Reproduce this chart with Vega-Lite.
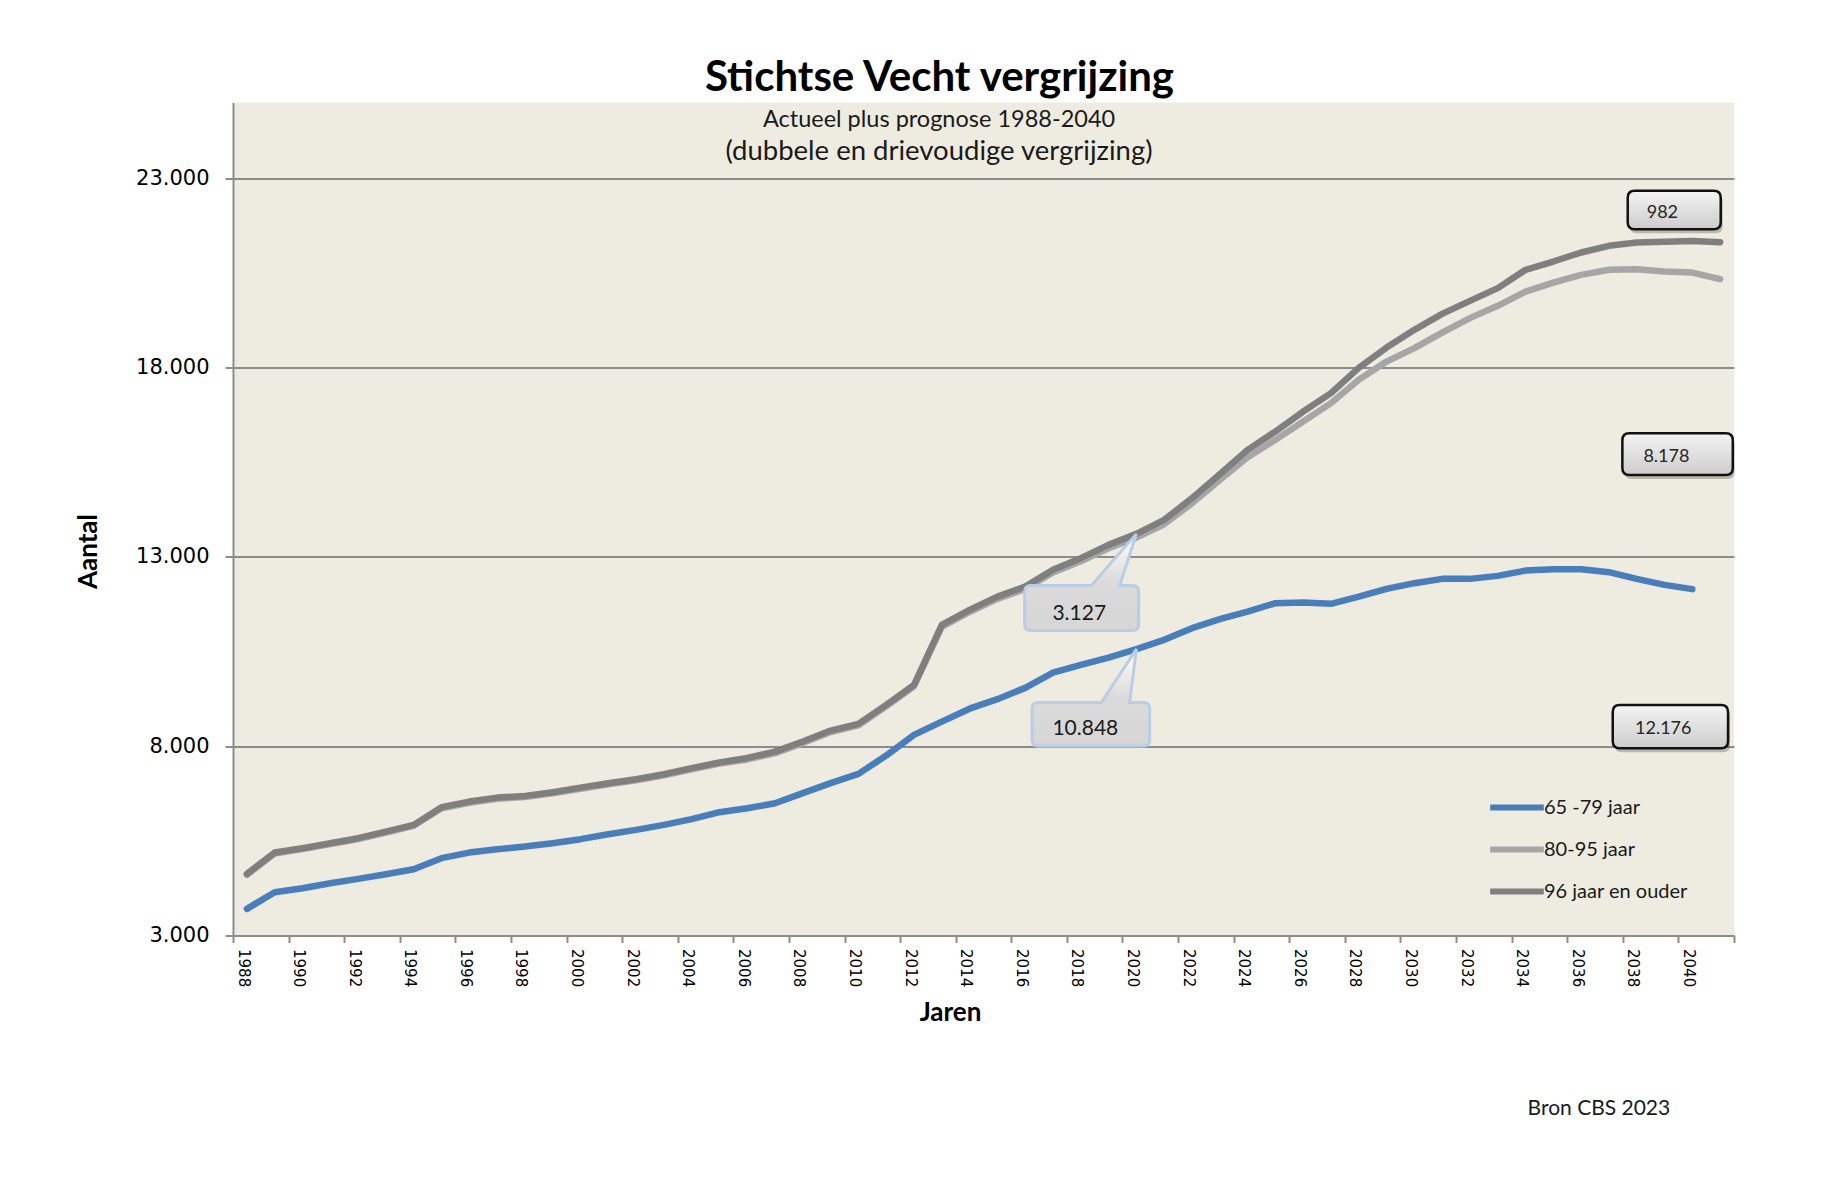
{
  "$schema": "https://vega.github.io/schema/vega-lite/v6.json",
  "width": 1501,
  "height": 833,
  "autosize": "none",
  "padding": {"left": 233, "top": 102.5, "right": 93, "bottom": 249.5},
  "background": "white",
  "config": {"view": {"fill": "#EEECE1", "stroke": null}, "font": "Lato"},
  "title": {"text": "Stichtse Vecht vergrijzing", "font": "Lato", "fontSize": 42, "fontWeight": "bold", "color": "#000000", "anchor": "middle", "frame": "group", "dx": -44, "baseline": "bottom", "offset": -39},
  "datasets": {
    "series": [
      {"year":1988,"group":"65 -79 jaar","value":3703},{"year":1989,"group":"65 -79 jaar","value":4144},{"year":1990,"group":"65 -79 jaar","value":4249},{"year":1991,"group":"65 -79 jaar","value":4381},{"year":1992,"group":"65 -79 jaar","value":4495},{"year":1993,"group":"65 -79 jaar","value":4619},{"year":1994,"group":"65 -79 jaar","value":4751},{"year":1995,"group":"65 -79 jaar","value":5042},{"year":1996,"group":"65 -79 jaar","value":5190},{"year":1997,"group":"65 -79 jaar","value":5279},
      {"year":1998,"group":"65 -79 jaar","value":5348},{"year":1999,"group":"65 -79 jaar","value":5438},{"year":2000,"group":"65 -79 jaar","value":5544},{"year":2001,"group":"65 -79 jaar","value":5676},{"year":2002,"group":"65 -79 jaar","value":5789},{"year":2003,"group":"65 -79 jaar","value":5921},{"year":2004,"group":"65 -79 jaar","value":6072},{"year":2005,"group":"65 -79 jaar","value":6257},{"year":2006,"group":"65 -79 jaar","value":6360},{"year":2007,"group":"65 -79 jaar","value":6494},
      {"year":2008,"group":"65 -79 jaar","value":6759},{"year":2009,"group":"65 -79 jaar","value":7023},{"year":2010,"group":"65 -79 jaar","value":7268},{"year":2011,"group":"65 -79 jaar","value":7752},{"year":2012,"group":"65 -79 jaar","value":8298},{"year":2013,"group":"65 -79 jaar","value":8650},{"year":2014,"group":"65 -79 jaar","value":8990},{"year":2015,"group":"65 -79 jaar","value":9241},{"year":2016,"group":"65 -79 jaar","value":9540},{"year":2017,"group":"65 -79 jaar","value":9940},
      {"year":2018,"group":"65 -79 jaar","value":10147},{"year":2019,"group":"65 -79 jaar","value":10340},{"year":2020,"group":"65 -79 jaar","value":10562},{"year":2021,"group":"65 -79 jaar","value":10808},{"year":2022,"group":"65 -79 jaar","value":11117},{"year":2023,"group":"65 -79 jaar","value":11354},{"year":2024,"group":"65 -79 jaar","value":11555},{"year":2025,"group":"65 -79 jaar","value":11777},{"year":2026,"group":"65 -79 jaar","value":11793},{"year":2027,"group":"65 -79 jaar","value":11759},
      {"year":2028,"group":"65 -79 jaar","value":11951},{"year":2029,"group":"65 -79 jaar","value":12155},{"year":2030,"group":"65 -79 jaar","value":12305},{"year":2031,"group":"65 -79 jaar","value":12419},{"year":2032,"group":"65 -79 jaar","value":12419},{"year":2033,"group":"65 -79 jaar","value":12498},{"year":2034,"group":"65 -79 jaar","value":12638},{"year":2035,"group":"65 -79 jaar","value":12675},{"year":2036,"group":"65 -79 jaar","value":12675},{"year":2037,"group":"65 -79 jaar","value":12596},
      {"year":2038,"group":"65 -79 jaar","value":12419},{"year":2039,"group":"65 -79 jaar","value":12260},{"year":2040,"group":"65 -79 jaar","value":12147},

      {"year":1988,"group":"80-95 jaar","value":4602},{"year":1989,"group":"80-95 jaar","value":5165},{"year":1990,"group":"80-95 jaar","value":5281},{"year":1991,"group":"80-95 jaar","value":5413},{"year":1992,"group":"80-95 jaar","value":5545},{"year":1993,"group":"80-95 jaar","value":5719},{"year":1994,"group":"80-95 jaar","value":5896},{"year":1995,"group":"80-95 jaar","value":6359},{"year":1996,"group":"80-95 jaar","value":6507},{"year":1997,"group":"80-95 jaar","value":6612},
      {"year":1998,"group":"80-95 jaar","value":6657},{"year":1999,"group":"80-95 jaar","value":6755},{"year":2000,"group":"80-95 jaar","value":6876},{"year":2001,"group":"80-95 jaar","value":6993},{"year":2002,"group":"80-95 jaar","value":7098},{"year":2003,"group":"80-95 jaar","value":7230},{"year":2004,"group":"80-95 jaar","value":7389},{"year":2005,"group":"80-95 jaar","value":7540},{"year":2006,"group":"80-95 jaar","value":7650},{"year":2007,"group":"80-95 jaar","value":7817},
      {"year":2008,"group":"80-95 jaar","value":8082},{"year":2009,"group":"80-95 jaar","value":8372},{"year":2010,"group":"80-95 jaar","value":8549},{"year":2011,"group":"80-95 jaar","value":9051},{"year":2012,"group":"80-95 jaar","value":9579},{"year":2013,"group":"80-95 jaar","value":11154},{"year":2014,"group":"80-95 jaar","value":11545},{"year":2015,"group":"80-95 jaar","value":11891},{"year":2016,"group":"80-95 jaar","value":12151},{"year":2017,"group":"80-95 jaar","value":12587},
      {"year":2018,"group":"80-95 jaar","value":12886},{"year":2019,"group":"80-95 jaar","value":13227},{"year":2020,"group":"80-95 jaar","value":13507},{"year":2021,"group":"80-95 jaar","value":13862},{"year":2022,"group":"80-95 jaar","value":14415},{"year":2023,"group":"80-95 jaar","value":15030},{"year":2024,"group":"80-95 jaar","value":15633},{"year":2025,"group":"80-95 jaar","value":16090},{"year":2026,"group":"80-95 jaar","value":16574},{"year":2027,"group":"80-95 jaar","value":17060},
      {"year":2028,"group":"80-95 jaar","value":17680},{"year":2029,"group":"80-95 jaar","value":18158},{"year":2030,"group":"80-95 jaar","value":18512},{"year":2031,"group":"80-95 jaar","value":18924},{"year":2032,"group":"80-95 jaar","value":19305},{"year":2033,"group":"80-95 jaar","value":19630},{"year":2034,"group":"80-95 jaar","value":20007},{"year":2035,"group":"80-95 jaar","value":20245},{"year":2036,"group":"80-95 jaar","value":20448},{"year":2037,"group":"80-95 jaar","value":20581},
      {"year":2038,"group":"80-95 jaar","value":20599},{"year":2039,"group":"80-95 jaar","value":20536},{"year":2040,"group":"80-95 jaar","value":20509},{"year":2041,"group":"80-95 jaar","value":20335},

      {"year":1988,"group":"96 jaar en ouder","value":4627},{"year":1989,"group":"96 jaar en ouder","value":5190},{"year":1990,"group":"96 jaar en ouder","value":5306},{"year":1991,"group":"96 jaar en ouder","value":5438},{"year":1992,"group":"96 jaar en ouder","value":5570},{"year":1993,"group":"96 jaar en ouder","value":5744},{"year":1994,"group":"96 jaar en ouder","value":5921},{"year":1995,"group":"96 jaar en ouder","value":6389},{"year":1996,"group":"96 jaar en ouder","value":6537},{"year":1997,"group":"96 jaar en ouder","value":6642},
      {"year":1998,"group":"96 jaar en ouder","value":6687},{"year":1999,"group":"96 jaar en ouder","value":6785},{"year":2000,"group":"96 jaar en ouder","value":6906},{"year":2001,"group":"96 jaar en ouder","value":7023},{"year":2002,"group":"96 jaar en ouder","value":7128},{"year":2003,"group":"96 jaar en ouder","value":7260},{"year":2004,"group":"96 jaar en ouder","value":7419},{"year":2005,"group":"96 jaar en ouder","value":7570},{"year":2006,"group":"96 jaar en ouder","value":7690},{"year":2007,"group":"96 jaar en ouder","value":7857},
      {"year":2008,"group":"96 jaar en ouder","value":8122},{"year":2009,"group":"96 jaar en ouder","value":8412},{"year":2010,"group":"96 jaar en ouder","value":8589},{"year":2011,"group":"96 jaar en ouder","value":9091},{"year":2012,"group":"96 jaar en ouder","value":9619},{"year":2013,"group":"96 jaar en ouder","value":11204},{"year":2014,"group":"96 jaar en ouder","value":11600},{"year":2015,"group":"96 jaar en ouder","value":11951},{"year":2016,"group":"96 jaar en ouder","value":12216},{"year":2017,"group":"96 jaar en ouder","value":12657},
      {"year":2018,"group":"96 jaar en ouder","value":12966},{"year":2019,"group":"96 jaar en ouder","value":13317},{"year":2020,"group":"96 jaar en ouder","value":13607},{"year":2021,"group":"96 jaar en ouder","value":13977},{"year":2022,"group":"96 jaar en ouder","value":14550},{"year":2023,"group":"96 jaar en ouder","value":15180},{"year":2024,"group":"96 jaar en ouder","value":15826},{"year":2025,"group":"96 jaar en ouder","value":16310},{"year":2026,"group":"96 jaar en ouder","value":16838},{"year":2027,"group":"96 jaar en ouder","value":17324},
      {"year":2028,"group":"96 jaar en ouder","value":17990},{"year":2029,"group":"96 jaar en ouder","value":18528},{"year":2030,"group":"96 jaar en ouder","value":18996},{"year":2031,"group":"96 jaar en ouder","value":19418},{"year":2032,"group":"96 jaar en ouder","value":19762},{"year":2033,"group":"96 jaar en ouder","value":20097},{"year":2034,"group":"96 jaar en ouder","value":20581},{"year":2035,"group":"96 jaar en ouder","value":20800},{"year":2036,"group":"96 jaar en ouder","value":21038},{"year":2037,"group":"96 jaar en ouder","value":21215},
      {"year":2038,"group":"96 jaar en ouder","value":21302},{"year":2039,"group":"96 jaar en ouder","value":21320},{"year":2040,"group":"96 jaar en ouder","value":21339},{"year":2041,"group":"96 jaar en ouder","value":21312}
    ],
    "boxes": [
      {"label":"982","year":2038.36,"value":22080},
      {"label":"8.178","year":2038.24,"value":15625},
      {"label":"12.176","year":2037.94,"value":8460}
    ],
    "callouts": [
      {"label":"3.127","year":2020,"value":13607},
      {"label":"10.848","year":2020,"value":10562}
    ]
  },
  "layer": [
    {
      "data": {"name": "series"},
      "mark": {"type": "line", "strokeWidth": 6.5, "strokeCap": "round", "strokeJoin": "round"},
      "encoding": {
        "x": {"field": "year", "type": "quantitative",
          "scale": {"domain": [1987.5, 2041.5], "nice": false, "zero": false},
          "axis": {"title": "Jaren", "values": [1987.5,1989.5,1991.5,1993.5,1995.5,1997.5,1999.5,2001.5,2003.5,2005.5,2007.5,2009.5,2011.5,2013.5,2015.5,2017.5,2019.5,2021.5,2023.5,2025.5,2027.5,2029.5,2031.5,2033.5,2035.5,2037.5,2039.5,2041.5],
            "labelExpr": "datum.value < 2041 ? format(datum.value + 0.5, 'd') : ''",
            "labelAngle": 90, "labelFont": "DejaVu Sans", "labelFontSize": 15, "labelColor": "#000000", "labelOffset": 10, "labelPadding": 6, "labelOverlap": false, "labelFlush": false, "labelBound": false,
            "tickSize": 7, "tickColor": "#8C8C8C", "tickWidth": 2, "domainColor": "#8C8C8C", "domainWidth": 2, "grid": false,
            "titleFont": "Lato", "titleFontSize": 26, "titleFontWeight": "bold", "titleColor": "#000000", "titleX": 717, "titleY": 77, "titleAlign": "center", "titleBaseline": "middle"}},
        "y": {"field": "value", "type": "quantitative",
          "scale": {"domain": [3000, 25000], "nice": false, "zero": false},
          "axis": {"title": "Aantal", "values": [3000, 8000, 13000, 18000, 23000],
            "labelExpr": "replace(format(datum.value, ','), ',', '.')",
            "labelFont": "DejaVu Sans", "labelFontSize": 21, "labelColor": "#000000", "labelPadding": 16,
            "tickSize": 8, "tickColor": "#8C8C8C", "tickWidth": 2, "domainColor": "#8C8C8C", "domainWidth": 2,
            "grid": true, "gridColor": "#8C8C8C", "gridWidth": 2,
            "titleFont": "Lato", "titleFontSize": 26, "titleFontWeight": "bold", "titleColor": "#000000", "titleAngle": -90, "titleX": -144.5, "titleY": 448.5, "titleAlign": "center", "titleBaseline": "middle"}},
        "color": {"field": "group", "type": "nominal",
          "scale": {"domain": ["65 -79 jaar", "80-95 jaar", "96 jaar en ouder"], "range": ["#4A7EBB", "#A6A6A6", "#7F7F7F"]},
          "legend": {"title": null, "orient": "none", "legendX": 1254, "legendY": 684, "symbolType": "stroke", "symbolSize": 2873, "symbolStrokeWidth": 6, "labelFont": "Lato", "labelFontSize": 20, "labelColor": "#1A1A1A", "labelOffset": -3, "clipHeight": 42, "rowPadding": 0, "padding": 0, "labelLimit": 400}}
      }
    },
    {
      "data": {"name": "callouts"},
      "mark": {"type": "point", "filled": true, "size": 400, "opacity": 1, "stroke": "#B9CDE5", "strokeWidth": 3,
        "fill": {"gradient": "linear", "x1": 0, "y1": 0, "x2": 0, "y2": 1, "stops": [{"offset": 0, "color": "#FFFFFF"}, {"offset": 0.5, "color": "#DADADA"}, {"offset": 1, "color": "#D6D6D6"}]}},
      "encoding": {
        "x": {"field": "year", "type": "quantitative"},
        "y": {"field": "value", "type": "quantitative"},
        "shape": {"field": "label", "type": "nominal", "legend": null,
          "scale": {"domain": ["3.127", "10.848", "982", "8.178", "12.176"],
            "range": [
              "M0,0L-1.67,5.17H-0.37Q0.23,5.17 0.23,5.77V9.07Q0.23,9.67 -0.37,9.67H-10.57Q-11.17,9.67 -11.17,9.07V5.77Q-11.17,5.17 -10.57,5.17H-4.5Z",
              "M0,0L-0.67,5.33H0.73Q1.33,5.33 1.33,5.93V9.07Q1.33,9.67 0.73,9.67H-9.83Q-10.43,9.67 -10.43,9.07V5.93Q-10.43,5.33 -9.83,5.33H-3.5Z",
              "M-1.2,-2.23H6.7Q7.4,-2.23 7.4,-1.53V0.93Q7.4,1.63 6.7,1.63H-1.2Q-1.9,1.63 -1.9,0.93V-1.53Q-1.9,-2.23 -1.2,-2.23Z",
              "M-1.4,-2.42H8.24Q8.94,-2.42 8.94,-1.72V1.05Q8.94,1.75 8.24,1.75H-1.4Q-2.1,1.75 -2.1,1.05V-1.72Q-2.1,-2.42 -1.4,-2.42Z",
              "M-1.53,-2.38H8.6Q9.3,-2.38 9.3,-1.68V1.25Q9.3,1.95 8.6,1.95H-1.53Q-2.23,1.95 -2.23,1.25V-1.68Q-2.23,-2.38 -1.53,-2.38Z"
            ]}}
      }
    },
    {
      "data": {"name": "callouts"},
      "mark": {"type": "text", "align": "left", "baseline": "middle", "dx": -84, "dy": 80, "font": "Lato", "fontSize": 21, "color": "#1A1A1A"},
      "encoding": {
        "x": {"field": "year", "type": "quantitative"},
        "y": {"field": "value", "type": "quantitative"},
        "text": {"field": "label"}
      }
    },
    {
      "data": {"name": "boxes"},
      "mark": {"type": "point", "filled": true, "size": 400, "opacity": 0.22, "fill": "#000000", "strokeWidth": 0, "xOffset": 2, "yOffset": 4},
      "encoding": {
        "x": {"field": "year", "type": "quantitative"},
        "y": {"field": "value", "type": "quantitative"},
        "shape": {"field": "label", "type": "nominal", "legend": null}
      }
    },
    {
      "data": {"name": "boxes"},
      "mark": {"type": "point", "filled": true, "size": 400, "opacity": 1, "stroke": "#111111", "strokeWidth": 2.5,
        "fill": {"gradient": "linear", "x1": 0, "y1": 0, "x2": 0, "y2": 1, "stops": [{"offset": 0, "color": "#F4F4F4"}, {"offset": 1, "color": "#CCCCCC"}]}},
      "encoding": {
        "x": {"field": "year", "type": "quantitative"},
        "y": {"field": "value", "type": "quantitative"},
        "shape": {"field": "label", "type": "nominal", "legend": null}
      }
    },
    {
      "data": {"name": "boxes"},
      "mark": {"type": "text", "align": "left", "baseline": "middle", "font": "Lato", "fontSize": 18, "color": "#262626"},
      "encoding": {
        "x": {"field": "year", "type": "quantitative"},
        "y": {"field": "value", "type": "quantitative"},
        "text": {"field": "label"}
      }
    },
    {
      "data": {"values": [{}]},
      "mark": {"type": "text", "text": "Actueel plus prognose 1988-2040", "align": "center", "baseline": "middle", "font": "Lato", "fontSize": 23.5, "color": "#1A1A1A"},
      "encoding": {"x": {"datum": 2012.9, "type": "quantitative"}, "y": {"datum": 24530, "type": "quantitative"}}
    },
    {
      "data": {"values": [{}]},
      "mark": {"type": "text", "text": "(dubbele en drievoudige vergrijzing)", "align": "center", "baseline": "middle", "font": "Lato", "fontSize": 27.5, "color": "#1A1A1A"},
      "encoding": {"x": {"datum": 2012.9, "type": "quantitative"}, "y": {"datum": 23690, "type": "quantitative"}}
    },
    {
      "data": {"values": [{}]},
      "mark": {"type": "text", "text": "Bron CBS 2023", "align": "center", "baseline": "middle", "font": "Lato", "fontSize": 21, "color": "#1A1A1A"},
      "encoding": {"x": {"datum": 2036.64, "type": "quantitative"}, "y": {"datum": -1579, "type": "quantitative"}}
    }
  ]
}
